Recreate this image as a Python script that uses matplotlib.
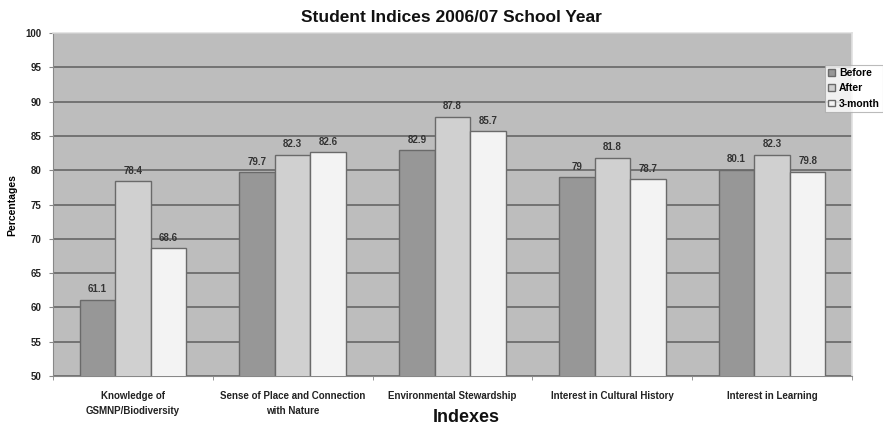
import numpy as np
import matplotlib
matplotlib.use('Agg')
import matplotlib.pyplot as plt

plt.rcParams['font.family'] = ['Liberation Sans', 'DejaVu Sans']

# === data ===
categories = ['Knowledge of\nGSMNP/Biodiversity',
              'Sense of Place and Connection\nwith Nature',
              'Environmental Stewardship',
              'Interest in Cultural History',
              'Interest in Learning']
series_names = ['Before', 'After', '3-month']
before = [61.1, 79.7, 82.9, 79, 80.1]
after = [78.4, 82.3, 87.8, 81.8, 82.3]
three_month = [68.6, 82.6, 85.7, 78.7, 79.8]
value_labels = [['61.1', '79.7', '82.9', '79', '80.1'],
                ['78.4', '82.3', '87.8', '81.8', '82.3'],
                ['68.6', '82.6', '85.7', '78.7', '79.8']]
yticks = [50, 55, 60, 65, 70, 75, 80, 85, 90, 95, 100]

colors = ['#979797', '#d0d0d0', '#f3f3f3']
edge = '#6a6a6a'

fig = plt.figure(figsize=(8.83, 4.25), dpi=100)
ax = fig.add_axes([0.060, 0.1153, 0.905, 0.8067])
ax.set_facecolor('#bdbdbd')

x = np.arange(len(categories))
width = 1 / 4.5
offsets = [-width, 0, width]
all_series = [before, after, three_month]

for i, vals in enumerate(all_series):
    bars = ax.bar(x + offsets[i], vals, width, color=colors[i], edgecolor=edge,
                  linewidth=1.0, label=series_names[i], zorder=3)
    for b, txt in zip(bars, value_labels[i]):
        ax.text(b.get_x() + b.get_width() / 2, b.get_height() + 0.8, txt,
                ha='center', va='bottom', fontsize=7, fontweight='bold',
                color='#333333', zorder=4)

ax.set_ylim(50, 100)
ax.set_xlim(-0.5, len(categories) - 0.5)
ax.set_yticks(yticks)
ax.set_yticklabels([str(t) for t in yticks], fontsize=7, fontweight='bold', color='#222222')
ax.yaxis.grid(True, color='#5e5e5e', linewidth=1.1, zorder=1)
ax.tick_params(axis='y', length=3, color='#888888', pad=5)

# category labels centered, tick marks between groups
ax.set_xticks(x)
ax.set_xticklabels(categories, fontsize=7, fontweight='bold', color='#222222', linespacing=1.6)
ax.tick_params(axis='x', length=0, pad=11)
ax.set_xticks(np.arange(-0.5, len(categories) + 0.5, 1), minor=True)
ax.tick_params(axis='x', which='minor', length=3, color='#888888')

for side in ['top', 'right']:
    ax.spines[side].set_color('#e0e0e0')
    ax.spines[side].set_linewidth(1.2)
ax.spines['left'].set_color('#888888')
ax.spines['bottom'].set_color('#888888')

ax.set_ylabel('Percentages', fontsize=7.5, fontweight='bold', labelpad=6)
fig.text(0.511, 0.958, 'Student Indices 2006/07 School Year', ha='center', va='center',
         fontsize=12.5, fontweight='bold', color='#111111')
fig.text(0.528, 0.018, 'Indexes', ha='center', va='center', fontsize=13,
         fontweight='bold', color='#111111')

leg = ax.legend(loc='upper left', bbox_to_anchor=(0.9665, 0.907), fontsize=7.5,
                frameon=True, fancybox=False, handlelength=0.6, handleheight=0.6,
                handletextpad=0.4, borderpad=0.3, labelspacing=0.5, borderaxespad=0)
for t in leg.get_texts():
    t.set_fontweight('bold')
leg.get_frame().set_facecolor('white')
leg.get_frame().set_edgecolor('#aaaaaa')
leg.get_frame().set_linewidth(0.8)

fig.savefig('out.png', dpi=100)
